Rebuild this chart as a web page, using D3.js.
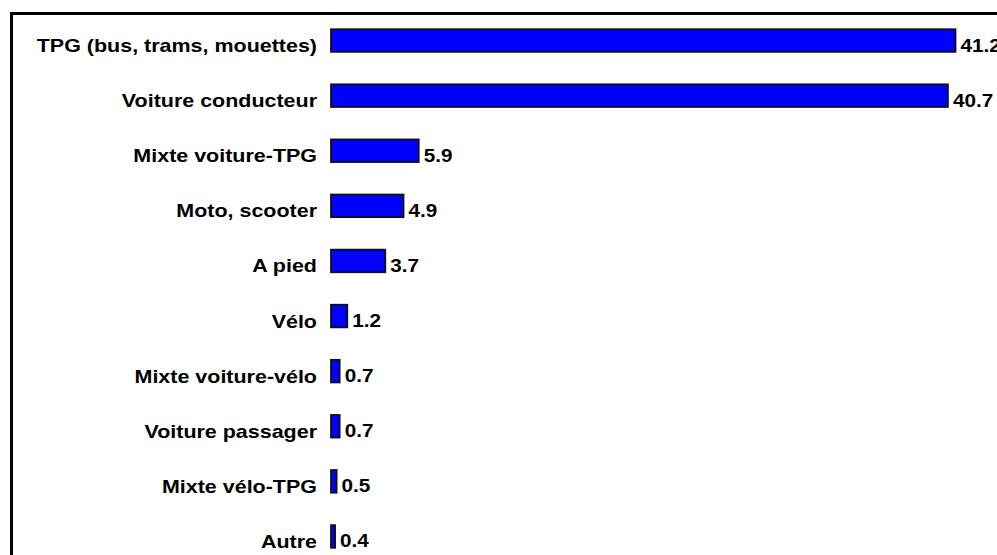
<!DOCTYPE html>
<html>
<head>
<meta charset="utf-8">
<script src="https://cdn.jsdelivr.net/npm/d3@7"></script>
<style>
  body { margin: 0; background: #fff; }
  svg { display: block; }
  text { font-family: "Liberation Sans", Arial, sans-serif; font-weight: bold; fill: #000; }
</style>
</head>
<body>
<svg id="chart"></svg>
<script>
// categories and values (percent), top to bottom
const categories = [
  'TPG (bus, trams, mouettes)',
  'Voiture conducteur',
  'Mixte voiture-TPG',
  'Moto, scooter',
  'A pied',
  'Vélo',
  'Mixte voiture-vélo',
  'Voiture passager',
  'Mixte vélo-TPG',
  'Autre'
];
const values = [41.2, 40.7, 5.9, 4.9, 3.7, 1.2, 0.7, 0.7, 0.5, 0.4];

(function() {
  const width = 997,
        height = 555;

  const svg = d3.select('#chart')
    .attr('width', width)
    .attr('height', height);

  // frame around the plot, runs off the right and bottom edges
  svg.append('rect')
    .attr('x', 11.5)
    .attr('y', 13.5)
    .attr('width', 1200)
    .attr('height', 800)
    .attr('fill', 'none')
    .attr('stroke', '#000')
    .attr('stroke-width', 3);

  const xScale = d3.scaleLinear()
    .domain([0, d3.max(values)])
    .range([329, 955.5]);

  const baseX = 331; // where the bars start (axis line)

  const yScale = d3.scaleBand()
    .domain(categories)
    .range([13, 564])
    .paddingInner(0.59)
    .paddingOuter(0.295);

  const data = categories.map((c, i) => ({ cat: c, value: values[i] }));
  const mid = d => yScale(d.cat) + yScale.bandwidth() / 2;

  const row = svg.selectAll('g.row')
    .data(data)
    .enter().append('g')
      .attr('class', 'row');

  row.append('rect')
    .attr('x', baseX)
    .attr('y', d => yScale(d.cat))
    .attr('width', d => Math.max(1.5, xScale(d.value) - baseX))
    .attr('height', yScale.bandwidth())
    .attr('fill', '#0000ff')
    .attr('stroke', '#111')
    .attr('stroke-width', 1.8);

  // category labels, right aligned left of the bars (text is a bit stretched sideways)
  row.append('text')
    .attr('transform', d => `translate(317,${mid(d) + 11.5}) scale(1.13,1)`)
    .attr('text-anchor', 'end')
    .style('font-size', '19px')
    .text(d => d.cat);

  // value labels at the bar ends
  row.append('text')
    .attr('transform', d => `translate(${Math.max(baseX, xScale(d.value)) + 5},${mid(d) + 11}) scale(1.15,1)`)
    .style('font-size', '18px')
    .text(d => d3.format('.1f')(d.value));
})();
</script>
</body>
</html>
